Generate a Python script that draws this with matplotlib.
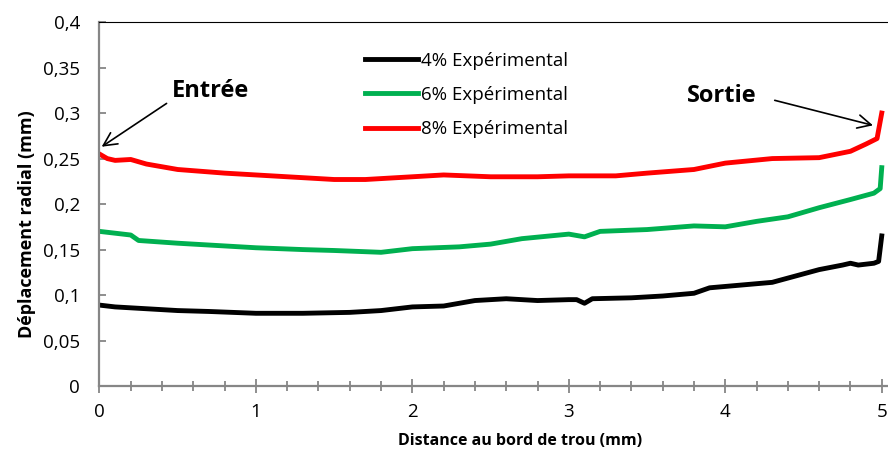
import numpy as np
import matplotlib.pyplot as plt
from matplotlib.ticker import MultipleLocator, FuncFormatter

# Valeurs (distance en mm, déplacement en mm)
x4 = [0, 0.1, 0.3, 0.5, 0.7, 1.0, 1.3, 1.6, 1.8, 2.0, 2.2, 2.4, 2.6, 2.8, 3.0,
      3.05, 3.1, 3.15, 3.4, 3.6, 3.8, 3.9, 4.1, 4.3, 4.45, 4.6, 4.75, 4.8,
      4.85, 4.95, 4.98, 5.0]
y4 = [0.089, 0.087, 0.085, 0.083, 0.082, 0.080, 0.080, 0.081, 0.083, 0.087,
      0.088, 0.094, 0.096, 0.094, 0.095, 0.095, 0.091, 0.096, 0.097, 0.099,
      0.102, 0.108, 0.111, 0.114, 0.121, 0.128, 0.133, 0.135, 0.133, 0.135,
      0.137, 0.165]

x6 = [0, 0.1, 0.2, 0.25, 0.5, 0.8, 1.0, 1.3, 1.5, 1.8, 2.0, 2.3, 2.5, 2.7,
      3.0, 3.1, 3.2, 3.5, 3.8, 4.0, 4.2, 4.4, 4.6, 4.8, 4.95, 4.99, 5.0]
y6 = [0.170, 0.168, 0.166, 0.160, 0.157, 0.154, 0.152, 0.150, 0.149, 0.147,
      0.151, 0.153, 0.156, 0.162, 0.167, 0.164, 0.170, 0.172, 0.176, 0.175,
      0.181, 0.186, 0.196, 0.205, 0.212, 0.217, 0.240]

x8 = [0, 0.05, 0.1, 0.2, 0.3, 0.5, 0.8, 1.0, 1.3, 1.5, 1.7, 2.0, 2.2, 2.5,
      2.8, 3.0, 3.3, 3.5, 3.8, 4.0, 4.3, 4.6, 4.8, 4.9, 4.97, 5.0]
y8 = [0.255, 0.250, 0.248, 0.249, 0.244, 0.238, 0.234, 0.232, 0.229, 0.227,
      0.227, 0.230, 0.232, 0.230, 0.230, 0.231, 0.231, 0.234, 0.238, 0.245,
      0.250, 0.251, 0.258, 0.266, 0.272, 0.300]

plt.rcParams['font.family'] = ['Open Sans', 'DejaVu Sans']

fig = plt.figure(figsize=(8.88, 4.5), dpi=100)
ax = fig.add_axes([0.112, 0.142, 0.888, 0.809])

ax.plot(x4, y4, color="black", linewidth=3.5, label="4% Expérimental")
ax.plot(x6, y6, color="#00b050", linewidth=3.5, label="6% Expérimental")
ax.plot(x8, y8, color="red", linewidth=3.5, label="8% Expérimental")

ax.set_xlim(0, 5.04)
ax.set_ylim(0, 0.4)
ax.xaxis.set_major_locator(MultipleLocator(1))
ax.xaxis.set_minor_locator(MultipleLocator(0.2))
ax.yaxis.set_major_locator(MultipleLocator(0.05))
ax.yaxis.set_major_formatter(FuncFormatter(lambda v, p: ("%g" % round(v, 2)).replace(".", ",")))

gris = "#868686"
ax.spines['right'].set_visible(False)
ax.spines['top'].set_color("black")
ax.spines['left'].set_color(gris)
ax.spines['bottom'].set_color(gris)
ax.spines['left'].set_linewidth(1.6)
ax.spines['bottom'].set_linewidth(1.6)
ax.tick_params(axis='x', which='major', direction='inout', length=10, color=gris, width=1.3, labelsize=13.5, pad=7.5)
ax.tick_params(axis='x', which='minor', direction='inout', length=7, color=gris, width=1.3)
ax.tick_params(axis='y', direction='in', length=5, color=gris, width=1.3, labelsize=13.5, pad=14)

ax.set_xlabel("Distance au bord de trou (mm)", fontsize=11.5, fontweight='bold')
ax.set_ylabel("Déplacement radial (mm)", fontsize=13, fontweight='bold')
ax.xaxis.set_label_coords(0.533, -0.13)
ax.yaxis.set_label_coords(-0.081, 0.446)

ax.legend(loc='upper left', bbox_to_anchor=(0.315, 0.965), frameon=False, fontsize=13.5,
          handlelength=2.83, handletextpad=0.17, labelspacing=0.87)

# Étiquettes et flèches
ax.text(0.712, 0.3176, "Entrée", fontsize=17, fontweight='bold', ha='center', va='baseline')
ax.text(3.975, 0.312, "Sortie", fontsize=17, fontweight='bold', ha='center', va='baseline')
ax.annotate("", xy=(0.014, 0.263), xytext=(0.429, 0.3106),
            arrowprops=dict(arrowstyle="->", color="black", lw=1.2, mutation_scale=24,
                            shrinkA=0, shrinkB=0))
ax.annotate("", xy=(4.944, 0.2865), xytext=(4.316, 0.314),
            arrowprops=dict(arrowstyle="->", color="black", lw=1.2, mutation_scale=24,
                            shrinkA=0, shrinkB=0))

fig.savefig("out.png", dpi=100)
